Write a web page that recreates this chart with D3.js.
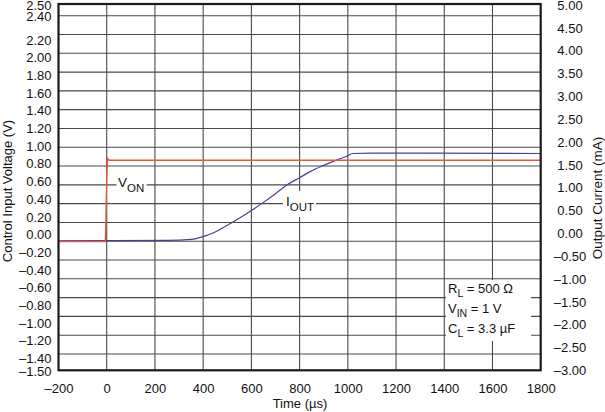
<!DOCTYPE html>
<html>
<head>
<meta charset="utf-8">
<script src="https://cdn.jsdelivr.net/npm/d3@7"></script>
<style>
  html, body { margin: 0; padding: 0; background: #fff; }
  svg { display: block; font-family: "Liberation Sans", Arial, Helvetica, sans-serif; }
</style>
</head>
<body>
<svg id="chart" width="605" height="412"></svg>
<script>
// ---- data ----
const timeTicks = [-200, 0, 200, 400, 600, 800, 1000, 1200, 1400, 1600, 1800];
const leftTicks = [2.50, 2.40, 2.20, 2.00, 1.80, 1.60, 1.40, 1.20, 1.00, 0.80, 0.60, 0.40, 0.20, 0.00,
                   -0.20, -0.40, -0.60, -0.80, -1.00, -1.20, -1.40, -1.50];
const rightTicks = [5.00, 4.50, 4.00, 3.50, 3.00, 2.50, 2.00, 1.50, 1.00, 0.50, 0.00,
                    -0.50, -1.00, -1.50, -2.00, -2.50, -3.00];
const gridRows = d3.range(19);   // 19 horizontal grid divisions as drawn in the figure

const vonTime  = [-200, -6, -4, -2, 0, 4, 10, 20, 1800];
const vonValue = [-0.08, -0.08, 0.10, 0.40, 0.65, 0.86, 0.84, 0.84, 0.84];

const ioutTime  = [-200, 250, 350, 400, 450, 500, 550, 600, 650, 700, 750, 800, 850, 900, 950, 1000, 1020, 1100, 1800];
const ioutValue = [-0.16, -0.15, -0.13, -0.07, 0.03, 0.18, 0.33, 0.50, 0.68, 0.87, 1.07, 1.22, 1.37, 1.49, 1.60, 1.70, 1.75, 1.76, 1.75];

const conditions = [
  {main: "R", sub: "L", rest: " = 500 Ω"},
  {main: "V", sub: "IN", rest: " = 1 V"},
  {main: "C", sub: "L", rest: " = 3.3 µF"}
];

// ---- layout ----
const L = 58.5, R = 540.7, T = 4, B = 370.3;
const svg = d3.select("#chart");
const gGrid = svg.append("g");
const gBg = svg.append("g");
const gAxes = svg.append("g");
const gData = svg.append("g");
const gFrame = svg.append("g");

const x = d3.scaleLinear().domain([-200, 1800]).range([L, R]);
// left axis scale as the tick labels are placed in the figure
const yL = d3.scaleLinear().domain([-1.5, -1.4, 2.2, 2.4, 2.5]).range([371, 358.3, 40, 16.7, 5]);
const yR = d3.scaleLinear().domain([-3, 5]).range([370.5, 5]);
const yGrid = d3.scaleLinear().domain([0, 18]).range([15.7, 354]);

const fmt2 = d => (d < 0 ? "\u2013" : "") + Math.abs(d).toFixed(2);
const fmt0 = d => (d < 0 ? "\u2013" : "") + Math.abs(d);

// ---- grid ----
gGrid.selectAll("line.row").data(gridRows).enter().append("line")
  .attr("class", "row")
  .attr("x1", L).attr("x2", R)
  .attr("y1", k => yGrid(k)).attr("y2", k => yGrid(k))
  .attr("stroke", "#4a4a4a").attr("stroke-width", 1.1);
gGrid.selectAll("line.col").data(timeTicks.slice(1, -1)).enter().append("line")
  .attr("class", "col")
  .attr("x1", t => x(t)).attr("x2", t => x(t))
  .attr("y1", T).attr("y2", B)
  .attr("stroke", "#4a4a4a").attr("stroke-width", 1.1);

// ---- axes (labels only) ----
const axL = gAxes.append("g").attr("transform", `translate(${L - 7},0)`)
  .call(d3.axisLeft(yL).tickValues(leftTicks).tickFormat(fmt2).tickSize(0).tickPadding(0));
const axR = gAxes.append("g").attr("transform", `translate(570,0)`)
  .call(d3.axisRight(yR).tickValues(rightTicks).tickFormat(fmt2).tickSize(0).tickPadding(0));
axR.selectAll("text").attr("text-anchor", "middle");
const axB = gAxes.append("g").attr("transform", `translate(0,${B + 13})`)
  .call(d3.axisBottom(x).tickValues(timeTicks).tickFormat(fmt0).tickSize(0).tickPadding(0));
[axL, axR, axB].forEach(a => {
  a.select(".domain").remove();
  a.selectAll("text").attr("font-size", 13).attr("fill", "#111")
    .attr("font-family", '"Liberation Sans", Arial, sans-serif');
});

// axis titles
gAxes.append("text").attr("transform", "translate(12,191) rotate(-90)")
  .attr("text-anchor", "middle").attr("font-size", 13).attr("fill", "#111")
  .text("Control Input Voltage (V)");
gAxes.append("text").attr("transform", "translate(602,198) rotate(-90)")
  .attr("text-anchor", "middle").attr("font-size", 13.5).attr("fill", "#111")
  .text("Output Current (mA)");
gAxes.append("text").attr("x", 300).attr("y", 408)
  .attr("text-anchor", "middle").attr("font-size", 13).attr("fill", "#111")
  .text("Time (µs)");

// ---- conditions box ----
gBg.append("rect").attr("x", 446).attr("y", 280).attr("width", 85).attr("height", 61).attr("fill", "#ffffff");
const cond = gAxes.append("g").attr("font-size", 13).attr("fill", "#111");
conditions.forEach((c, i) => {
  const t = cond.append("text").attr("x", 448).attr("y", 293 + i * 20.2);
  t.append("tspan").text(c.main);
  t.append("tspan").attr("font-size", 10.5).attr("dy", 4).text(c.sub);
  t.append("tspan").attr("dy", -4).text(c.rest);
});

// ---- series labels (white backgrounds over grid) ----
function seriesLabel(px, py, main, sub, bx, bw, by, bh) {
  gBg.append("rect").attr("x", bx).attr("y", by).attr("width", bw).attr("height", bh).attr("fill", "#ffffff");
  const t = gAxes.append("text").attr("x", px).attr("y", py).attr("font-size", 13.5).attr("fill", "#111");
  t.append("tspan").text(main);
  t.append("tspan").attr("font-size", 11.5).attr("dy", 5).text(sub);
}
seriesLabel(118, 187, "V", "ON", 116.5, 30, 176, 19);
seriesLabel(286, 206, "I", "OUT", 283, 33, 191, 26);

// ---- lines ----
const vonLine = d3.line().x((d, i) => x(vonTime[i])).y(d => yL(d));
const ioutLine = d3.line().x((d, i) => x(ioutTime[i])).y(d => yR(d)).curve(d3.curveMonotoneX);
gData.append("path").datum(ioutValue).attr("d", ioutLine)
  .attr("fill", "none").attr("stroke", "#46409c").attr("stroke-width", 1.2);
gData.append("path").datum(vonValue).attr("d", vonLine)
  .attr("fill", "none").attr("stroke", "#e85a3a").attr("stroke-width", 1.3);

// ---- frame ----
gFrame.append("rect").attr("x", L).attr("y", T).attr("width", R - L).attr("height", B - T)
  .attr("fill", "none").attr("stroke", "#1a1a1a").attr("stroke-width", 2.2);
</script>
</body>
</html>
